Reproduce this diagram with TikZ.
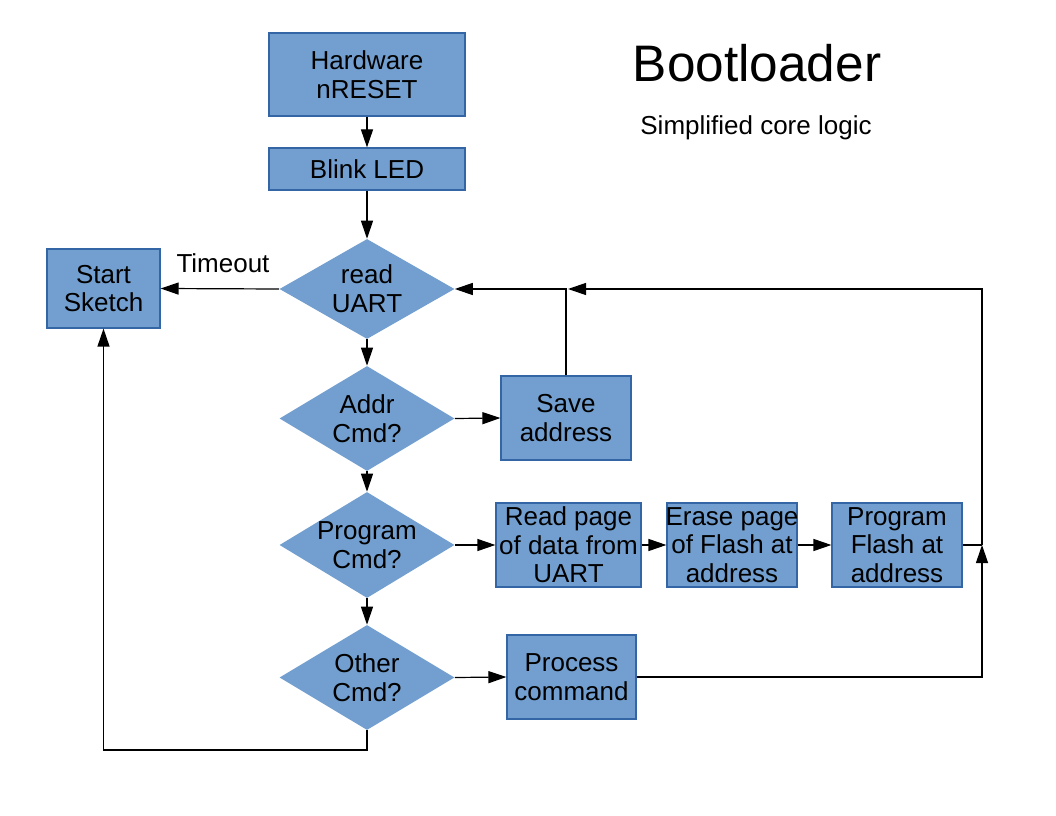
\documentclass[tikz,border=0pt]{standalone}
\usepackage{fontspec}
\setmainfont{Liberation Sans}
\usetikzlibrary{shapes.geometric,arrows.meta}
\definecolor{boxfill}{HTML}{729FCF}
\definecolor{boxline}{HTML}{3465A4}
\begin{document}
\begin{tikzpicture}[x=0.75pt,y=-0.75pt,
  every node/.style={font=\fontsize{19.5}{21.5}\selectfont},
  box/.style={rectangle,fill=boxfill,draw=boxline,line width=0.9pt,inner sep=0pt,align=center},
  dia/.style={diamond,fill=boxfill,draw=none,inner sep=0pt,minimum width=131.25pt},
  arr/.style={draw=black,line width=0.9pt,-{Triangle[length=13.5pt,width=9pt]}},
  ln/.style={draw=black,line width=0.9pt}]
\useasboundingbox (0,0) rectangle (1056,816);
% boxes
\node[box,minimum width=147pt,minimum height=62.25pt] (hw) at (367,74.5) {Hardware\\nRESET};
\node[box,minimum width=147pt,minimum height=31.5pt] (blink) at (367,169) {Blink LED};
\node[box,minimum width=84.75pt,minimum height=59.25pt] (start) at (103.5,288.5) {Start\\Sketch};
\node[box,minimum width=97.5pt,minimum height=63pt] (save) at (566,418) {Save\\address};
\node[box,minimum width=108.75pt,minimum height=63pt] (readp) at (568.5,545) {Read page\\of data from\\UART};
\node[box,minimum width=97.5pt,minimum height=63pt,label={[align=center]center:Erase page\\of Flash at\\address}] (erase) at (732,545) {};
\node[box,minimum width=97.5pt,minimum height=63pt] (progf) at (897,545) {Program\\Flash at\\address};
\node[box,minimum width=96.75pt,minimum height=63pt] (proc) at (571.5,677) {Process\\command};
% diamonds
\node[dia,minimum height=75pt,label={[align=center]center:read\\UART}] (rd) at (367,289) {};
\node[dia,minimum height=78.75pt,label={[align=center]center:Addr\\Cmd?}] (addr) at (367,418.5) {};
\node[dia,minimum height=79.5pt,label={[align=center]center:Program\\Cmd?}] (prog) at (367,545) {};
\node[dia,minimum height=78.75pt,label={[align=center]center:Other\\Cmd?}] (other) at (367,677.5) {};
% texts
\node (timeout) at (223,263) {Timeout};
\node[font=\fontsize{38.5}{42}\selectfont] (title) at (757,63) {Bootloader};
\node (sub) at (756,128) {Simplified core logic};
% helper coordinates
\coordinate (tr) at (982,289);
\coordinate (mr) at (982,545);
\coordinate (bl) at (103.5,750);
% connectors
\draw[arr] (hw.south) -- (blink.north);
\draw[arr] (blink.south) -- (rd.north);
\draw[arr] (rd.south) -- (addr.north);
\draw[arr] (addr.south) -- (prog.north);
\draw[arr] (prog.south) -- (other.north);
\draw[arr] (rd.west) -- (start.east);
\draw[arr] (addr.east) -- (save.west);
\draw[arr] (prog.east) -- (readp.west);
\draw[arr] (readp.east) -- (erase.west);
\draw[arr] (erase.east) -- (progf.west);
\draw[arr] (other.east) -- (proc.west);
\draw[arr] (save.north) -- (save.north |- rd.east) -- (rd.east);
\draw[ln] (progf.east) -- (mr);
\draw[arr] (proc.east) -- (proc.east -| mr) -- (mr);
\draw[arr] (mr) -- (tr) -- ([xshift=1.5pt]save.north |- tr);
\draw[arr] (other.south) |- (bl) -- (start.south);
\end{tikzpicture}
\end{document}
